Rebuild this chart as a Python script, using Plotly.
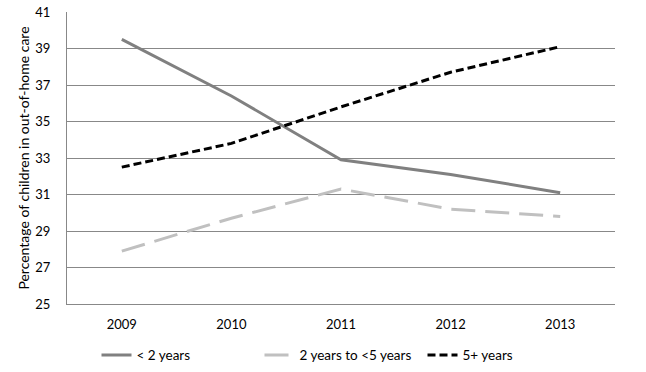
import plotly.graph_objects as go

years = ["2009", "2010", "2011", "2012", "2013"]
under2 = [39.5, 36.4, 32.9, 32.1, 31.1]
two_to_five = [27.9, 29.7, 31.3, 30.2, 29.8]
five_plus = [32.5, 33.8, 35.8, 37.7, 39.1]
y_ticks = [25, 27, 29, 31, 33, 35, 37, 39, 41]

fig = go.Figure()
fig.add_trace(go.Scatter(x=years, y=under2, name="< 2 years", mode="lines",
                         line=dict(color="#808080", width=3)))
fig.add_trace(go.Scatter(x=years, y=two_to_five, name="2 years to <5 years", mode="lines",
                         line=dict(color="#c0c0c0", width=3, dash="24px,10px")))
fig.add_trace(go.Scatter(x=years, y=five_plus, name="5+ years", mode="lines",
                         line=dict(color="#000000", width=3, dash="8px,4px")))

font = "Lato, Open Sans, sans-serif"
fig.update_layout(
    width=646, height=372,
    margin=dict(l=67, r=31, t=12, b=68, autoexpand=False),
    paper_bgcolor="white", plot_bgcolor="white",
    font=dict(family=font, size=12, color="#000"),
    showlegend=True,
    legend=dict(orientation="h", x=0.5, xanchor="center", y=-0.175, yanchor="middle",
                font=dict(size=13.5), traceorder="normal", entrywidth=118),
    xaxis=dict(type="category", showgrid=False, showline=True, linecolor="#888",
               ticks="", tickfont=dict(size=13), range=[-0.5, 4.5], automargin=False,
               ticklabelstandoff=8),
    yaxis=dict(range=[25, 41], tickvals=y_ticks, showgrid=True, gridcolor="#888",
               gridwidth=1, showline=True, linecolor="#888", ticks="", zeroline=False,
               tickfont=dict(size=13), automargin=False, ticklabelstandoff=13,
               title=dict(text="Percentage of children in out-of-home care",
                          font=dict(size=14), standoff=2)),
)
fig.write_html("out.html", post_script="document.body.style.margin='0';",
               config={"displayModeBar": False})
